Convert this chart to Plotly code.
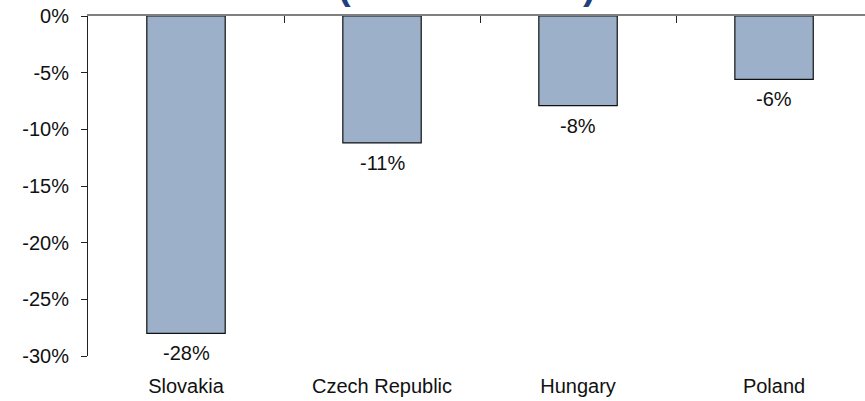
import plotly.graph_objects as go

countries = ["Slovakia", "Czech Republic", "Hungary", "Poland"]
change_pct = [-28.0, -11.2, -7.9, -5.6]
y_tick_vals = [0, -5, -10, -15, -20, -25, -30]
y_tick_text = ["0%", "-5%", "-10%", "-15%", "-20%", "-25%", "-30%"]
title_text = "(1990 vs 2000)"

FONT = "Liberation Sans, Arial, sans-serif"
FS = 20

fig = go.Figure()

fig.add_trace(go.Bar(
    x=countries,
    y=change_pct,
    width=0.4,
    marker=dict(color="#9DB0C9", line=dict(color="#111111", width=1.2)),
    showlegend=False,
))

# value labels sit a little below each bar end
for c, v in zip(countries, change_pct):
    fig.add_annotation(x=c, y=v, text=f"{v:.0f}%", showarrow=False,
                       yanchor="top", yshift=-7,
                       font=dict(size=FS, color="#111111", family=FONT))

# top axis carries the zero line with separator ticks between categories
fig.add_trace(go.Scatter(x=[0], y=[0], xaxis="x2", mode="markers",
                         marker=dict(opacity=0), showlegend=False,
                         hoverinfo="skip"))

fig.add_annotation(
    text=f"<b>{title_text}</b>", x=0.488, y=1, xref="paper", yref="paper",
    yanchor="bottom", yshift=7, showarrow=False,
    font=dict(size=38, color="#1F3F7F", family=FONT),
)

fig.update_layout(
    width=865, height=401,
    margin=dict(l=88, r=0, t=16, b=45),
    paper_bgcolor="white", plot_bgcolor="white",
    font=dict(family=FONT, size=FS, color="#111111"),
    xaxis=dict(
        range=[-0.5, 3.464], showline=False, ticks="", showgrid=False,
        zeroline=False, tickfont=dict(size=FS), automargin=False,
        ticklabelstandoff=16,
    ),
    xaxis2=dict(
        overlaying="x", side="top", range=[-0.5, 3.464],
        tickvals=[0.5, 1.5, 2.5], ticks="inside", ticklen=7,
        tickcolor="#222222", showticklabels=False, showgrid=False,
        showline=True, linecolor="#808080", linewidth=2, zeroline=False,
        automargin=False,
    ),
    yaxis=dict(
        range=[-30, 0], tickvals=y_tick_vals, ticktext=y_tick_text,
        showline=True, linecolor="#222222", linewidth=1,
        ticks="outside", ticklen=6, tickcolor="#222222",
        showgrid=False, zeroline=False, tickfont=dict(size=FS),
        automargin=False, ticklabelstandoff=8,
    ),
)

# page body margin would shift the figure by 8px
fig.write_html("out.html", config={"displayModeBar": False},
               post_script="document.body.style.margin='0';")
